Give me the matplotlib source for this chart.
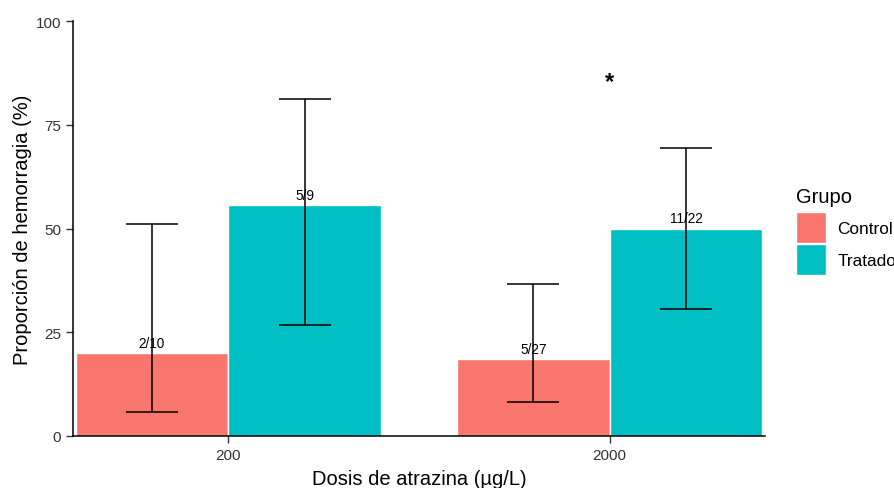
import matplotlib
matplotlib.use("Agg")
import matplotlib.pyplot as plt
from matplotlib.patches import Patch
import numpy as np

plt.rcParams['font.family'] = ['Liberation Sans', 'DejaVu Sans']

doses = ["200", "2000"]
groups = ["Control", "Tratado"]
colors = ["#F8766D", "#00BFC4"]
prop = {"Control": [20.0, 18.5], "Tratado": [55.6, 50.0]}
lower = {"Control": [5.7, 8.2], "Tratado": [26.7, 30.7]}
upper = {"Control": [51.0, 36.7], "Tratado": [81.1, 69.3]}
counts = {"Control": ["2/10", "5/27"], "Tratado": ["5/9", "11/22"]}
sig_dose = "2000"
sig_y = 85.5

fig = plt.figure(figsize=(8.95, 4.89), dpi=100)
ax = fig.add_axes([73/895, (489-437)/489, (765-73)/895, (437-22)/489])

x = np.arange(len(doses))
w = 0.4
for i, g in enumerate(groups):
    xs = x + (i - 0.5) * w
    ax.bar(xs, prop[g], width=w, color=colors[i], edgecolor="white", linewidth=1.0, zorder=2)
    yerr = [np.array(prop[g]) - np.array(lower[g]), np.array(upper[g]) - np.array(prop[g])]
    ax.errorbar(xs, prop[g], yerr=yerr, fmt="none", ecolor="black", elinewidth=1.1,
                capsize=18.5, capthick=1.1, zorder=3)
    for xi, yi, t in zip(xs, prop[g], counts[g]):
        ax.text(xi, yi + 0.8, t, ha="center", va="bottom", fontsize=9.8, color="black", zorder=4)

ax.text(doses.index(sig_dose), sig_y, "*", ha="center", va="center", fontsize=17, fontweight="bold")

ax.set_xlim(-0.407, 1.407)
ax.set_ylim(0, 100)
ax.set_xticks(x)
ax.set_xticklabels(doses)
ax.set_yticks([0, 25, 50, 75, 100])
ax.tick_params(axis="both", colors="#333333", labelsize=11, length=5, width=1.0, labelcolor="#333333")
for s in ["top", "right"]:
    ax.spines[s].set_visible(False)
for s in ["left", "bottom"]:
    ax.spines[s].set_linewidth(1.1)
    ax.spines[s].set_color("black")

ax.set_xlabel("Dosis de atrazina (µg/L)", fontsize=14.5, color="black", labelpad=5)
ax.set_ylabel("Proporción de hemorragia (%)", fontsize=14.5, color="black", labelpad=3)

handles = [Patch(facecolor=c, edgecolor="white") for c in colors]
leg = fig.legend(handles, groups, title="Grupo", loc="upper left",
                 bbox_to_anchor=(793/895, 1 - 185/489), frameon=False,
                 fontsize=12.4, title_fontsize=14.5, handlelength=1.74, handleheight=2.4,
                 handletextpad=0.64, labelspacing=0.05, borderaxespad=0, borderpad=0.2)
leg._legend_box.align = "left"
leg._legend_box.sep = 4

fig.savefig("out.png", dpi=100)
